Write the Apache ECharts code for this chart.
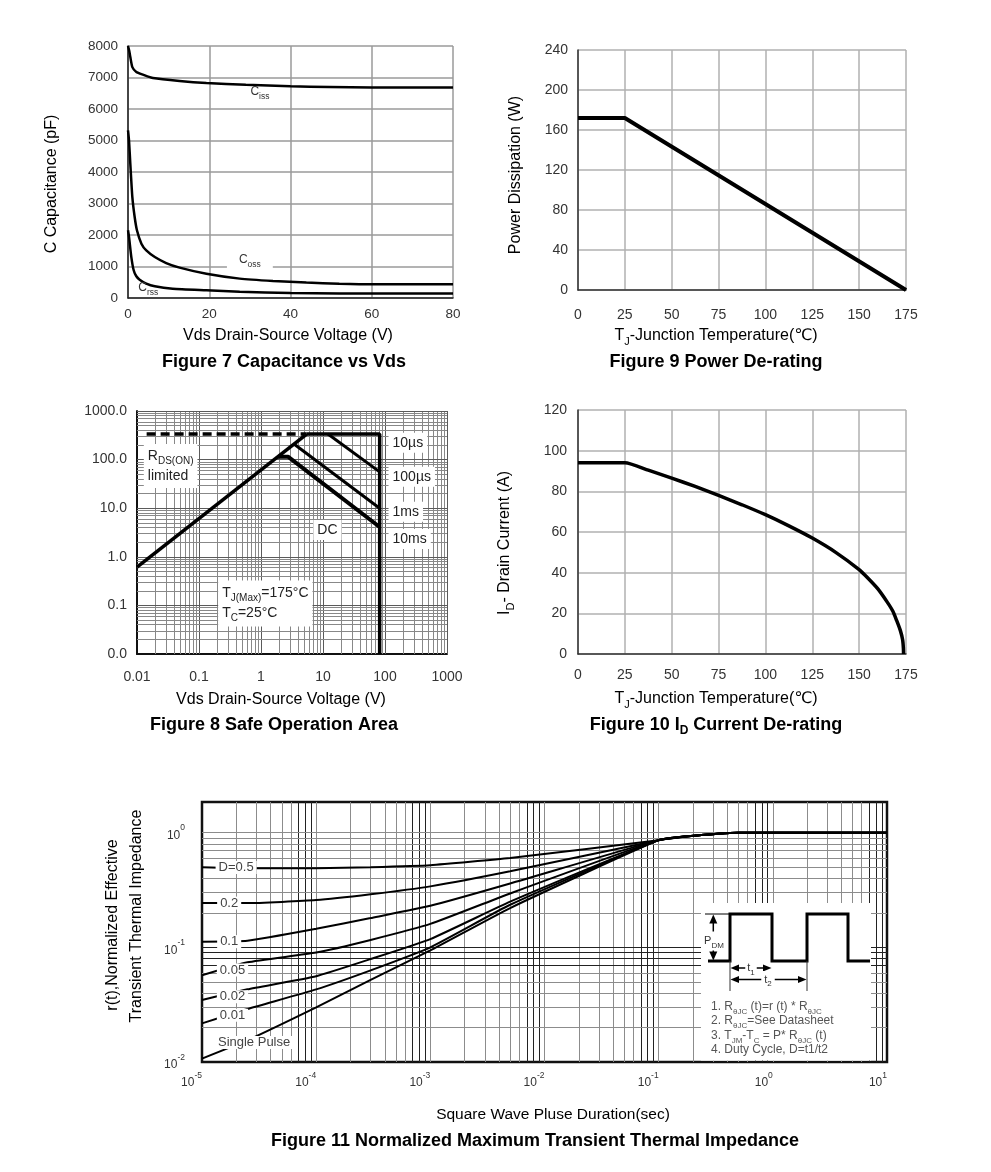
<!DOCTYPE html>
<html><head><meta charset="utf-8">
<script src="https://cdn.jsdelivr.net/npm/echarts@6/dist/echarts.min.js"></script>
<style>html,body{margin:0;padding:0;background:#fff}#c{width:991px;height:1172px}</style>
</head><body><div id="c"></div>
<script>
// ---------------- DATA ----------------
// Figure 7 : capacitance vs Vds
const cissV = [0, 0.3, 0.57, 1.07, 2.05, 3.7, 6.15, 12.7, 19.3, 29, 40, 49.6, 60, 80];
const cissC = [8000, 7850, 7650, 7330, 7175, 7090, 6985, 6890, 6825, 6770, 6720, 6700, 6680, 6680];
const cossV = [0, 0.25, 0.57, 1.07, 1.64, 2.2, 3.3, 4.5, 6.6, 9.4, 12.7, 19.3, 27.5, 35.7, 43.9, 52, 60, 80];
const cossC = [5320, 5000, 4260, 3200, 2570, 2150, 1725, 1510, 1300, 1110, 965, 770, 615, 540, 490, 455, 435, 435];
const crssV = [0, 0.25, 0.82, 1.4, 2.05, 2.87, 4.5, 6.6, 11, 19.3, 27.5, 40, 52, 80];
const crssC = [2150, 1940, 1300, 880, 690, 580, 455, 370, 295, 245, 200, 160, 140, 140];

// Figure 9 : power de-rating
const pdTemp = [0, 25, 175];
const pdPower = [172, 172, 0];

// Figure 10 : drain current de-rating
const idTemp = [0, 25, 37.5, 50, 62.5, 75, 87.5, 100, 112.5, 125, 137.5, 150, 155, 160, 165, 168, 170, 172, 173.2, 173.6, 173.7];
const idCurr = [94, 94, 90.4, 86.5, 82.4, 78, 73.4, 68.5, 63, 57, 50, 41.5, 37, 32, 25.5, 21, 16.5, 11.5, 7, 3, 0];

// Figure 8 : safe operating area (V, A)
const soaRds = [[0.01, 0.615], [5.46, 336]];
const soaRdsDash = [[0.0143, 336], [5.46, 336]];
const soaLimit = [[5.46, 336], [82, 336], [82, 0.01]];
const soa10us = [[12, 336], [82, 56]];
const soa100us = [[3.4, 209], [82, 10]];
const soaDC = [[1.88, 115], [2.72, 115], [82, 4.1]];
const soaXLabels = ['0.01', '0.1', '1', '10', '100', '1000'];
const soaYLabels = ['0.0', '0.1', '1.0', '10.0', '100.0', '1000.0'];

// Figure 11 : transient thermal impedance
const tPulse = [1e-5, 2.5e-5, 1e-4, 3e-4, 1e-3, 5e-3, 0.1, 0.18, 0.33, 0.5, 1, 10];
const rD05 = [0.50, 0.49, 0.49, 0.50, 0.52, 0.60, 0.86, 0.93, 0.98, 1.0, 1.0, 1.0];
const rD02 = [0.243, 0.243, 0.258, 0.29, 0.34, 0.46, 0.86, 0.93, 0.98, 1.0, 1.0, 1.0];
const rD01 = [0.112, 0.114, 0.145, 0.18, 0.23, 0.36, 0.86, 0.93, 0.98, 1.0, 1.0, 1.0];
const rD005 = [0.057, 0.074, 0.09, 0.116, 0.16, 0.295, 0.86, 0.93, 0.98, 1.0, 1.0, 1.0];
const rD002 = [0.0347, 0.043, 0.056, 0.079, 0.118, 0.25, 0.86, 0.93, 0.98, 1.0, 1.0, 1.0];
const rD001 = [0.0217, 0.029, 0.043, 0.063, 0.10, 0.235, 0.86, 0.93, 0.98, 1.0, 1.0, 1.0];
const rSingle = [0.0107, 0.0155, 0.030, 0.052, 0.094, 0.22, 0.86, 0.93, 0.98, 1.0, 1.0, 1.0];
const thermXExp = ['-5', '-4', '-3', '-2', '-1', '0', '1'];
const thermYExp = ['-2', '-1', '0'];

// ---------------- HELPERS ----------------
const fam = '"Liberation Sans", Arial, "DejaVu Sans", "Noto Sans CJK SC", sans-serif';
const pairs = (xs, ys) => xs.map((x, i) => [x, ys[i]]);
function logVals(e0, e1) {
  const out = [];
  for (let e = e0; e < e1; e++) for (let k = 1; k <= 9; k++) out.push({ v: +(k * Math.pow(10, e)).toPrecision(3), k });
  out.push({ v: Math.pow(10, e1), k: 1 });
  return out;
}
function gridLineSeries(idx, xs, ys) {
  const data = [];
  xs.forEach(o => data.push({ xAxis: o.v, lineStyle: { color: o.c, width: o.w || 1, type: 'solid' } }));
  ys.forEach(o => data.push({ yAxis: o.v, lineStyle: { color: o.c, width: o.w || 1, type: 'solid' } }));
  return {
    type: 'line', xAxisIndex: idx, yAxisIndex: idx, data: [], silent: true, z: 1, symbol: 'none',
    markLine: { z: 1, silent: true, symbol: ['none', 'none'], precision: 20, animation: false, label: { show: false },
      emphasis: { disabled: true }, lineStyle: { type: 'solid' }, data }
  };
}
function lineS(idx, data, width, extra) {
  return Object.assign({ type: 'line', xAxisIndex: idx, yAxisIndex: idx, data, symbol: 'none', showSymbol: false,
    silent: true, z: 3, animation: false, lineStyle: { color: '#000', width } }, extra || {});
}
function marks(items) {
  return { z: 6, symbol: 'circle', symbolSize: 1, itemStyle: { color: 'rgba(0,0,0,0)' }, silent: true, animation: false, data: items };
}
function subRich(size, sub, color) {
  return {
    n: { fontSize: size, lineHeight: size + 6, color, fontFamily: fam },
    s: { fontSize: sub, color, fontFamily: fam, verticalAlign: 'bottom' }
  };
}
function note(coord, text, opts) {
  return { coord, label: Object.assign({ show: true, position: 'inside', formatter: text, fontFamily: fam }, opts) };
}
function gtext(x, y, text, size, weight, rot, rich, extraStyle) {
  return { type: 'text', x, y, rotation: rot || 0, z: 100, silent: true,
    style: Object.assign({ text, fontSize: size, fontWeight: weight || 'normal', fontFamily: fam, fill: '#000',
      align: 'center', verticalAlign: 'middle', textAlign: 'center', textVerticalAlign: 'middle', rich }, extraStyle || {}) };
}
function gtextL(x, y, text, size, color, rich) {
  return { type: 'text', x, y, z: 101, silent: true,
    style: { text, fontSize: size, fontFamily: fam, fill: color,
      align: 'left', verticalAlign: 'middle', textAlign: 'left', textVerticalAlign: 'middle', rich } };
}
function richTok(size, sub, weight, color) {
  return {
    n: { fontSize: size, fontWeight: weight, fontFamily: fam, fill: color, lineHeight: size + 6 },
    s: { fontSize: sub, fontWeight: weight, fontFamily: fam, fill: color, verticalAlign: 'bottom' }
  };
}
function poly(points, width, color, z) {
  return { type: 'polyline', z: z || 102, silent: true, shape: { points }, style: { stroke: color || '#000', lineWidth: width, fill: null } };
}
function tri(points) {
  return { type: 'polygon', z: 103, silent: true, shape: { points }, style: { fill: '#000', stroke: null } };
}
const isDecade = v => { const l = Math.log10(v); return Math.abs(l - Math.round(l)) < 1e-6; };

// ---------------- AXES ----------------
const lin = (gi, min, max, interval, lblSize, margin, split, axisColor) => ({
  gridIndex: gi, type: 'value', min, max, interval,
  axisLine: { show: true, onZero: false, lineStyle: { color: axisColor, width: 1.5 } },
  axisTick: { show: false },
  axisLabel: { fontSize: lblSize, color: '#333', margin, fontFamily: fam, formatter: v => String(v) },
  splitLine: { show: true, lineStyle: { color: split, width: 1.5 } }
});

const supRich = {
  b: { fontSize: 12, lineHeight: 18, color: '#333', fontFamily: fam, verticalAlign: 'bottom' },
  p: { fontSize: 8.5, color: '#333', fontFamily: fam, verticalAlign: 'top' }
};
const xAxes = [
  lin(0, 0, 80, 20, 13.5, 10, '#9a9a9a', '#222'),
  lin(1, 0, 175, 25, 14, 18, '#b0b0b0', '#333'),
  { gridIndex: 2, type: 'log', logBase: 10, min: 0.01, max: 1000,
    axisLine: { show: true, lineStyle: { color: '#111', width: 2 } }, axisTick: { show: false }, splitLine: { show: false },
    axisLabel: { fontSize: 14, color: '#333', margin: 16, fontFamily: fam, showMinLabel: true, showMaxLabel: true,
      formatter: v => isDecade(v) ? soaXLabels[Math.round(Math.log10(v)) + 2] : '' } },
  lin(3, 0, 175, 25, 14, 14, '#b0b0b0', '#333'),
  { gridIndex: 4, type: 'log', logBase: 10, min: 1e-5, max: 10,
    axisLine: { show: false }, axisTick: { show: false }, splitLine: { show: false },
    axisLabel: { margin: 9, align: 'right', showMinLabel: true, showMaxLabel: true,
      formatter: v => isDecade(v) ? '{b|10}{p|' + thermXExp[Math.round(Math.log10(v)) + 5] + '}' : '',
      rich: supRich } }
];
const yAxes = [
  lin(0, 0, 8000, 1000, 13.5, 10, '#9a9a9a', '#222'),
  lin(1, 0, 240, 40, 14, 10, '#b0b0b0', '#333'),
  { gridIndex: 2, type: 'log', logBase: 10, min: 0.01, max: 1000,
    axisLine: { show: true, lineStyle: { color: '#111', width: 2 } }, axisTick: { show: false }, splitLine: { show: false },
    axisLabel: { fontSize: 14, color: '#333', margin: 10, fontFamily: fam, showMinLabel: true, showMaxLabel: true,
      formatter: v => isDecade(v) ? soaYLabels[Math.round(Math.log10(v)) + 2] : '' } },
  lin(3, 0, 120, 20, 14, 11, '#b0b0b0', '#333'),
  { gridIndex: 4, type: 'log', logBase: 10, min: 0.01, max: 1.85,
    axisLine: { show: false }, axisTick: { show: false }, splitLine: { show: false },
    axisLabel: { margin: 17, showMinLabel: true, showMaxLabel: true,
      formatter: v => isDecade(v) ? '{b|10}{p|' + thermYExp[Math.round(Math.log10(v)) + 2] + '}' : '',
      rich: supRich } }
];

// ---------------- GRID LINES FOR LOG PLOTS ----------------
const soaX = logVals(-2, 3).filter(o => o.v > 0.01).map(o => ({ v: o.v, c: o.k === 1 ? '#5a5a5a' : '#888' }));
const soaY = logVals(-2, 3).filter(o => o.v > 0.01).map(o => ({ v: o.v, c: o.k === 1 ? '#5a5a5a' : '#888' }));
const thX = logVals(-5, 1).filter(o => o.v > 1e-5 && o.v < 10).map(o => ({ v: o.v, c: o.k >= 7 ? '#222' : '#8c8c8c' }));
const thY = logVals(-2, 0).filter(o => o.v > 0.01).map(o => ({ v: o.v, c: (o.v >= 0.07 && o.v <= 0.1) ? '#222' : '#8c8c8c' }));

// ---------------- SERIES ----------------
const r12 = subRich(12, 8.5, '#333');
const r14 = subRich(14, 10, '#222');
const series = [
  // Figure 7
  lineS(0, pairs(cissV, cissC), 2.5, { smooth: 0.2,
    markPoint: marks([note([30, 6545], '{n|C}{s|iss}', { position: 'right', distance: 0, rich: r12 })]) }),
  lineS(0, pairs(cossV, cossC), 2.5, { smooth: 0.2,
    markPoint: marks([note([30, 1219], '{n|C}{s|oss}', { rich: r12, backgroundColor: '#fff', padding: [0, 12] })]) }),
  lineS(0, pairs(crssV, crssC), 2.5, { smooth: 0.2,
    markPoint: marks([note([2.4, 330], '{n|C}{s|rss}', { position: 'right', distance: 0, rich: r12 })]) }),
  // Figure 9
  lineS(1, pairs(pdTemp, pdPower), 4),
  // Figure 8
  gridLineSeries(2, soaX, soaY),
  lineS(2, soaRdsDash, 3.5, { lineStyle: { color: '#000', width: 3.5, type: [9, 5] } }),
  lineS(2, soaRds, 3.5, {
    markPoint: marks([
      note([0.01264, 73.8], '{n|R}{s|DS(ON)}\n{n|limited}', { position: 'right', distance: 0, rich: r14, backgroundColor: '#fff', padding: [2, 4] }),
      note([0.2, 0.109], '{n|T}{s|J(Max)}{n|=175°C}\n{n|T}{s|C}{n|=25°C}', { position: 'right', distance: 0, rich: r14, backgroundColor: '#fff', padding: [3, 4] })
    ]) }),
  lineS(2, soaLimit, 3.5),
  lineS(2, soa10us, 3, {
    markPoint: marks([note([112, 223], '10µs', { position: 'right', distance: 0, fontSize: 14, color: '#222', backgroundColor: '#fff', padding: [3, 4] })]) }),
  lineS(2, soa100us, 3, {
    markPoint: marks([
      note([112, 44.5], '100µs', { position: 'right', distance: 0, fontSize: 14, color: '#222', backgroundColor: '#fff', padding: [3, 4] }),
      note([112, 8.47], '1ms', { position: 'right', distance: 0, fontSize: 14, color: '#222', backgroundColor: '#fff', padding: [3, 4] }),
      note([112, 2.32], '10ms', { position: 'right', distance: 0, fontSize: 14, color: '#222', backgroundColor: '#fff', padding: [3, 4] })
    ]) }),
  lineS(2, soaDC, 4, {
    markPoint: marks([note([11.8, 3.56], 'DC', { fontSize: 14, color: '#222', backgroundColor: '#fff', padding: [3, 4] })]) }),
  // Figure 10
  lineS(3, pairs(idTemp, idCurr), 3.5, { smooth: 0.2 }),
  // Figure 11
  gridLineSeries(4, thX, thY)
];
const thermSeries = [
  ['D=0.5', rD05, [1.99e-5, 0.497]],
  ['0.2', rD02, [1.73e-5, 0.243]],
  ['0.1', rD01, [1.73e-5, 0.112]],
  ['0.05', rD005, [1.85e-5, 0.0634]],
  ['0.02', rD002, [1.85e-5, 0.037]],
  ['0.01', rD001, [1.85e-5, 0.0256]],
  ['Single Pulse', rSingle, [2.86e-5, 0.0148]]
];
thermSeries.forEach(([name, vals, pos]) => {
  series.push(lineS(4, pairs(tPulse, vals), 2, { name, smooth: 0.15,
    markPoint: marks([note(pos, name, { fontSize: 13, color: '#444', backgroundColor: '#fff', padding: [0, 3] })]) }));
});

// ---------------- TEXTS & INSET ----------------
const tb = richTok(16, 11, 'normal', '#000');
const tbB = richTok(18, 12, 'bold', '#000');
const ins = richTok(12, 8, 'normal', '#555');
const pdm = richTok(11, 8, 'normal', '#333');
const graphic = [
  // Figure 7
  gtext(52, 184, 'C Capacitance (pF)', 16, 'normal', Math.PI / 2),
  gtext(288, 336, 'Vds Drain-Source Voltage (V)', 16),
  gtext(284, 362, 'Figure 7 Capacitance vs Vds', 18, 'bold'),
  // Figure 9
  gtext(516, 175, 'Power Dissipation (W)', 16, 'normal', Math.PI / 2),
  gtext(716, 336, '{n|T}{s|J}{n|-Junction Temperature(℃)}', 16, 'normal', 0, tb),
  gtext(716, 362, 'Figure 9 Power De-rating', 18, 'bold'),
  // Figure 8
  gtext(281, 700, 'Vds Drain-Source Voltage (V)', 16),
  gtext(274, 725, 'Figure 8 Safe Operation Area', 18, 'bold'),
  // Figure 10
  gtext(505, 543, '{n|I}{s|D}{n|- Drain Current (A)}', 16, 'normal', Math.PI / 2, tb),
  gtext(716, 699, '{n|T}{s|J}{n|-Junction Temperature(℃)}', 16, 'normal', 0, tb),
  gtext(716, 725, '{n|Figure 10 I}{s|D}{n| Current De-rating}', 18, 'bold', 0, tbB),
  // Figure 11
  gtext(113, 925, 'r(t),Normalized Effective', 16, 'normal', Math.PI / 2),
  gtext(137, 916, 'Transient Thermal Impedance', 16, 'normal', Math.PI / 2),
  gtext(553, 1115, 'Square Wave Pluse Duration(sec)', 15.5),
  gtext(535, 1141, 'Figure 11 Normalized Maximum Transient Thermal Impedance', 18, 'bold'),
  // inset
  { type: 'rect', z: 99, silent: true, shape: { x: 701, y: 903, width: 170, height: 157.5 }, style: { fill: '#fff', stroke: null } },
  poly([[708, 961], [730, 961], [730, 914], [772, 914], [772, 961], [807, 961], [807, 914], [848, 914], [848, 961], [870, 961]], 3),
  poly([[705, 914], [730, 914]], 1),
  poly([[713.3, 920], [713.3, 955]], 1.5),
  tri([[713.3, 914.5], [709.3, 923.5], [717.3, 923.5]]),
  tri([[713.3, 960.5], [709.3, 951.5], [717.3, 951.5]]),
  Object.assign(gtext(714, 941, '{n|P}{s|DM}', 11, 'normal', 0, pdm, { backgroundColor: '#fff', padding: [1, 1] }), { z: 104 }),
  poly([[730, 961], [730, 991]], 1, '#333'),
  poly([[807, 961], [807, 991]], 1, '#333'),
  poly([[734, 968], [768, 968]], 1.5),
  tri([[730.5, 968], [739, 964.5], [739, 971.5]]),
  tri([[771.5, 968], [763, 964.5], [763, 971.5]]),
  Object.assign(gtext(751, 968, '{n|t}{s|1}', 11, 'normal', 0, pdm, { backgroundColor: '#fff', padding: [0, 2] }), { z: 104 }),
  poly([[734, 979.5], [803, 979.5]], 1.5),
  tri([[730.5, 979.5], [739, 976], [739, 983]]),
  tri([[806.5, 979.5], [798, 976], [798, 983]]),
  Object.assign(gtext(768, 979.5, '{n|t}{s|2}', 11, 'normal', 0, pdm, { backgroundColor: '#fff', padding: [0, 3] }), { z: 104 }),
  gtextL(711, 1006.5, '{n|1. R}{s|θJC}{n| (t)=r (t) * R}{s|θJC}', 12, '#555', ins),
  gtextL(711, 1021, '{n|2. R}{s|θJC}{n|=See Datasheet}', 12, '#555', ins),
  gtextL(711, 1035.5, '{n|3. T}{s|JM}{n|-T}{s|C}{n| = P* R}{s|θJC}{n| (t)}', 12, '#555', ins),
  gtextL(711, 1050, '{n|4. Duty Cycle, D=t1/t2}', 12, '#555', ins)
];

const option = {
  animation: false,
  backgroundColor: '#fff',
  textStyle: { fontFamily: fam },
  grid: [
    { left: 128, top: 46, width: 325, height: 252, containLabel: false, outerBoundsMode: 'none' },
    { left: 578, top: 50, width: 328, height: 240, containLabel: false, outerBoundsMode: 'none' },
    { left: 137, top: 411, width: 310, height: 243, containLabel: false, outerBoundsMode: 'none' },
    { left: 578, top: 410, width: 328, height: 244, containLabel: false, outerBoundsMode: 'none' },
    { left: 202, top: 802, width: 685, height: 260, containLabel: false, outerBoundsMode: 'none',
      show: true, borderColor: '#111', borderWidth: 2.5, backgroundColor: 'rgba(0,0,0,0)' }
  ],
  xAxis: xAxes,
  yAxis: yAxes,
  series,
  graphic
};
const chart = echarts.init(document.getElementById('c'), null, { renderer: 'canvas', width: 991, height: 1172 });
chart.setOption(option);
</script>
</body></html>
